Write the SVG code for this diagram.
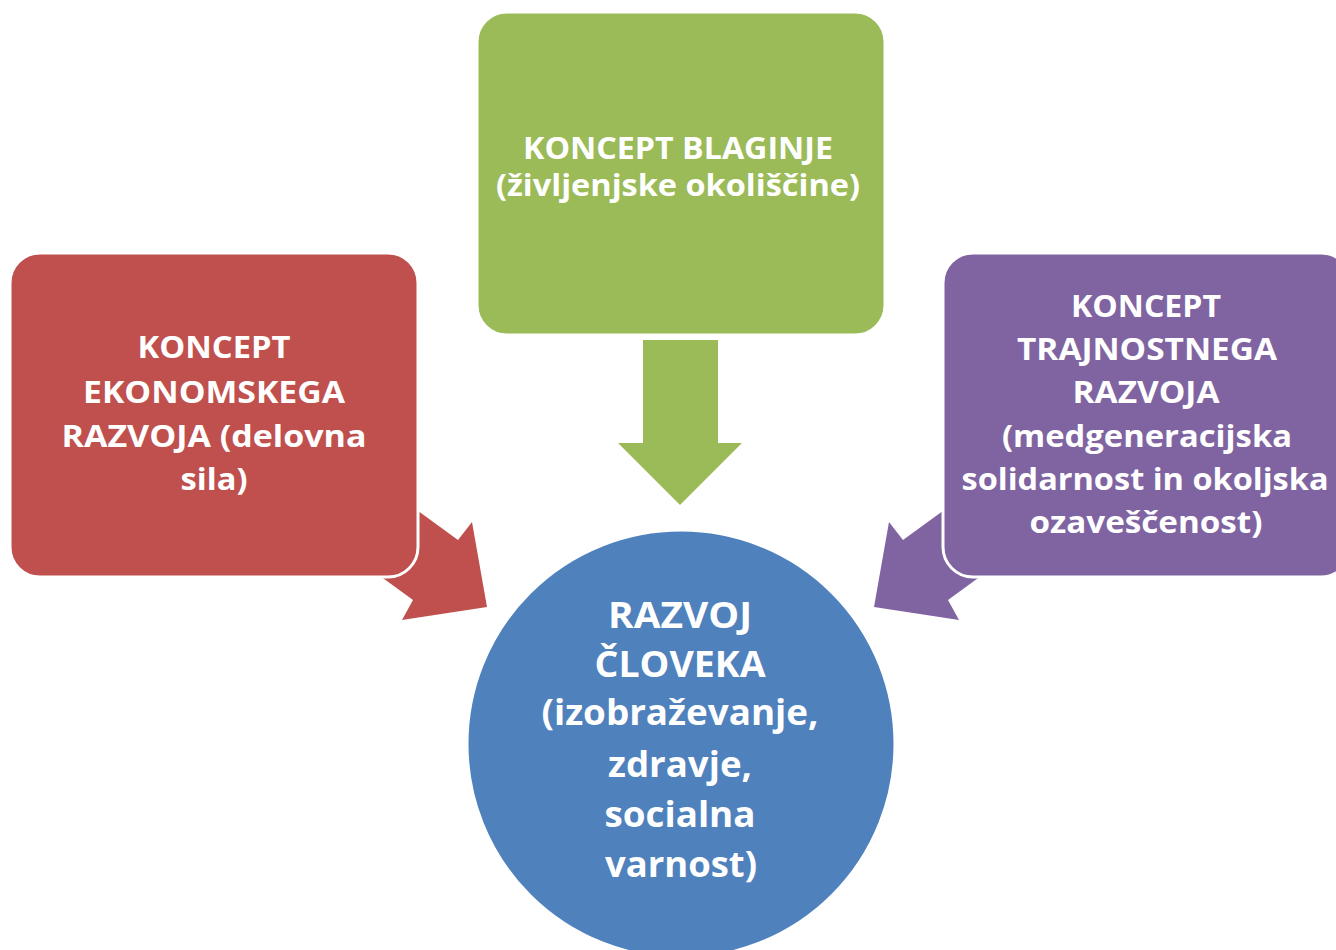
<svg xmlns="http://www.w3.org/2000/svg" width="1336" height="950" viewBox="0 0 1336 950">
<style>
.t{font-family:"Open Sans",Lato,"Liberation Sans",sans-serif;font-weight:bold;fill:#fff;text-anchor:middle;font-size:30px}
.g{font-size:30px}
.p{font-size:31px}
.c{font-size:35px}
.box{stroke:#fff;stroke-width:3}
</style>
<rect width="1336" height="950" fill="#fff"/>
<g id="connectors">
<polygon id="arrow-green" fill="#9BBB59" points="643,340 718,340 718,443 742,443 680,505 618,443 643,443"/>
<polygon id="arrow-red" fill="#C0504D" points="377,481 458,540 472,522 487,607 402,620 413,600 332,541"/>
<polygon id="arrow-purple" fill="#8064A2" points="984,481 903,540 889,522 874,607 959,620 948,600 1029,541"/>
</g>
<g id="node-blaginja">
<rect class="box" x="477" y="12" width="408" height="323" rx="30" fill="#9BBB59"/>
<text class="t g" x="678" y="159" textLength="310" lengthAdjust="spacingAndGlyphs">KONCEPT BLAGINJE</text>
<text class="t g" x="678" y="196" textLength="364" lengthAdjust="spacingAndGlyphs">(življenjske okoliščine)</text>
</g>
<g id="node-ekonomski">
<rect class="box" x="10" y="253" width="408" height="324" rx="30" fill="#C0504D"/>
<text class="t" x="214" y="358" textLength="153" lengthAdjust="spacingAndGlyphs">KONCEPT</text>
<text class="t" x="214" y="403" textLength="262" lengthAdjust="spacingAndGlyphs">EKONOMSKEGA</text>
<text class="t" x="214" y="447" textLength="305" lengthAdjust="spacingAndGlyphs">RAZVOJA (delovna</text>
<text class="t" x="214" y="490" textLength="67" lengthAdjust="spacingAndGlyphs">sila)</text>
</g>
<g id="node-trajnostni">
<rect class="box" x="943" y="253" width="408" height="324" rx="30" fill="#8064A2"/>
<text class="t p" x="1146" y="317" textLength="150" lengthAdjust="spacingAndGlyphs">KONCEPT</text>
<text class="t p" x="1147" y="360" textLength="260" lengthAdjust="spacingAndGlyphs">TRAJNOSTNEGA</text>
<text class="t p" x="1146" y="403" textLength="147" lengthAdjust="spacingAndGlyphs">RAZVOJA</text>
<text class="t p" x="1147" y="447" textLength="290" lengthAdjust="spacingAndGlyphs">(medgeneracijska</text>
<text class="t p" x="1145" y="490" textLength="367" lengthAdjust="spacingAndGlyphs">solidarnost in okoljska</text>
<text class="t p" x="1146" y="533" textLength="233" lengthAdjust="spacingAndGlyphs">ozaveščenost)</text>
</g>
<g id="node-clovek">
<circle class="box" cx="681" cy="744" r="214" fill="#4F81BD"/>
<text class="t c" x="680" y="628" textLength="144" lengthAdjust="spacingAndGlyphs">RAZVOJ</text>
<text class="t c" x="680" y="677" textLength="171" lengthAdjust="spacingAndGlyphs">ČLOVEKA</text>
<text class="t c" x="680" y="725" textLength="277" lengthAdjust="spacingAndGlyphs">(izobraževanje,</text>
<text class="t c" x="680" y="777" textLength="144" lengthAdjust="spacingAndGlyphs">zdravje,</text>
<text class="t c" x="680" y="827" textLength="151" lengthAdjust="spacingAndGlyphs">socialna</text>
<text class="t c" x="681" y="877" textLength="152" lengthAdjust="spacingAndGlyphs">varnost)</text>
</g>
</svg>
